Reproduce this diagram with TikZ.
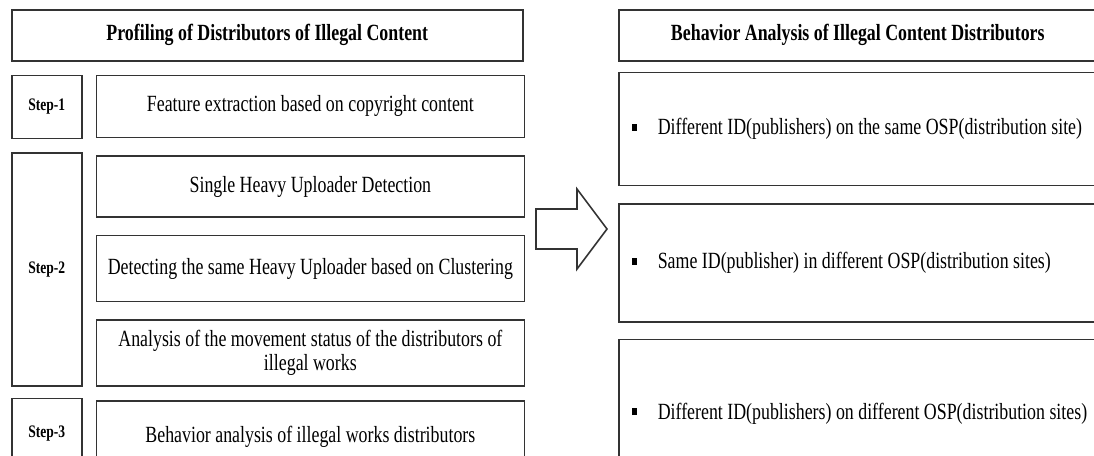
\documentclass[tikz,border=0pt]{standalone}
\usepackage{fontspec}
\setmainfont[FakeStretch=0.77]{Liberation Serif}
\usepackage{tikz}
\usetikzlibrary{positioning}
\definecolor{Edge}{HTML}{333333}
\newcommand{\sqb}[1]{\makebox[94mm][l]{\rule[0.8mm]{1mm}{1.4mm}\hspace{4.2mm}#1}}
\newcommand{\boxfont}{\fontsize{13.2}{13.8}\selectfont}

\begin{document}
\begin{tikzpicture}[x=0.2mm,y=-0.2mm,font=\boxfont]
  \tikzstyle{lay}=[draw=Edge,line width=0.9pt,align=center,inner sep=2pt]
  \tikzstyle{head}=[lay,minimum height=10.2mm,font=\boxfont\bfseries]
  \tikzstyle{stp}=[lay,minimum width=14mm,font=\fontsize{10}{12}\selectfont\bfseries]
  \tikzstyle{wrk}=[lay,minimum width=85.6mm]
  \tikzstyle{pat}=[lay,inner xsep=2.6mm]
  \clip (0,0) rectangle (1094,455);
  \node[head,minimum width=102.2mm,anchor=north west] (tl) at (11,9) {Profiling of Distributors of Illegal Content};
  \node[stp,minimum height=12.6mm,below=2.6mm of tl.south west,anchor=north west] (s1) {Step-1};
  \node[wrk,minimum height=12.4mm,right=2.6mm of s1.north east,anchor=north west] (f1) {Feature extraction based on copyright content};
  \node[stp,minimum height=46.6mm,below=2.6mm of s1.south west,anchor=north west] (s2) {Step-2};
  \node[wrk,minimum height=12.2mm,below=3.4mm of f1] (f2) {Single Heavy Uploader Detection};
  \node[wrk,minimum height=13.2mm,below=3.4mm of f2] (f3) {Detecting the same Heavy Uploader based on Clustering};
  \node[wrk,minimum height=13.2mm,below=3.4mm of f3] (f4) {Analysis of the movement status of the distributors of\\illegal works};
  \node[stp,minimum height=14mm,below=2.2mm of s2.south west,anchor=north west] (s3) {Step-3};
  \node[wrk,minimum height=14.4mm,below=2.6mm of f4] (f5) {Behavior analysis of illegal works distributors};
  \node[head,minimum width=95.6mm,anchor=north west] (tr) at (618,9) {Behavior Analysis of Illegal Content Distributors};
  \node[pat,minimum height=22.6mm,below=2mm of tr.south west,anchor=north west] (r1) {\sqb{Different ID(publishers) on the same OSP(distribution site)}};
  \node[pat,minimum height=23.6mm,below=3.4mm of r1.south west,anchor=north west] (r2) {\sqb{Same ID(publisher) in different OSP(distribution sites)}};
  \node[pat,minimum height=29.6mm,below=3.2mm of r2.south west,anchor=north west] (r3) {\sqb{Different ID(publishers) on different OSP(distribution sites)}};
  \draw[Edge,line width=0.9pt] (536,209) -- (577,209) -- (577,189) -- (607,229) -- (577,269) -- (577,249) -- (536,249) -- cycle;
\end{tikzpicture}
\end{document}
